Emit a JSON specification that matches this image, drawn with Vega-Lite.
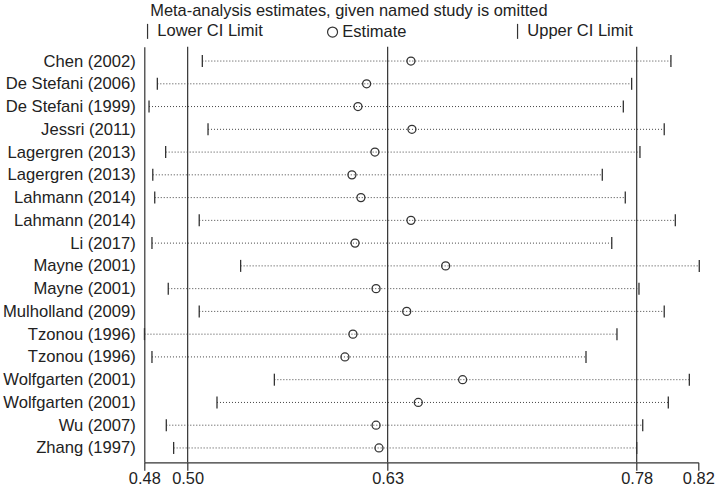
{
  "$schema": "https://vega.github.io/schema/vega-lite/v6.json",
  "width": 554,
  "height": 415.6,
  "autosize": {"type": "none"},
  "padding": {"left": 144.3, "top": 46.7, "right": 21.7, "bottom": 23.7},
  "background": "white",
  "config": {"view": {"stroke": null}},
  "title": {
    "text": "Meta-analysis estimates, given named study is omitted",
    "anchor": "start",
    "frame": "group",
    "font": "Liberation Sans",
    "fontSize": 16.4,
    "fontWeight": "normal",
    "color": "#222",
    "dx": 6,
    "offset": 3
  },
  "datasets": {
    "studies": [
      {"study": "Chen (2002)", "lower": 0.5128, "estimate": 0.6408, "upper": 0.8003},
      {"study": "De Stefani (2006)", "lower": 0.4852, "estimate": 0.6136, "upper": 0.7762},
      {"study": "De Stefani (1999)", "lower": 0.4801, "estimate": 0.6083, "upper": 0.7711},
      {"study": "Jessri (2011)", "lower": 0.5163, "estimate": 0.6414, "upper": 0.7962},
      {"study": "Lagergren (2013)", "lower": 0.4903, "estimate": 0.6187, "upper": 0.7813},
      {"study": "Lagergren (2013)#2", "lower": 0.4824, "estimate": 0.6046, "upper": 0.7582},
      {"study": "Lahmann (2014)", "lower": 0.4836, "estimate": 0.6101, "upper": 0.7723},
      {"study": "Lahmann (2014)#2", "lower": 0.5109, "estimate": 0.6408, "upper": 0.803},
      {"study": "Li (2017)", "lower": 0.4819, "estimate": 0.6065, "upper": 0.764},
      {"study": "Mayne (2001)", "lower": 0.5363, "estimate": 0.6621, "upper": 0.8177},
      {"study": "Mayne (2001)#2", "lower": 0.4919, "estimate": 0.6194, "upper": 0.7807},
      {"study": "Mulholland (2009)", "lower": 0.5109, "estimate": 0.6382, "upper": 0.7962},
      {"study": "Tzonou (1996)", "lower": 0.4773, "estimate": 0.6052, "upper": 0.7672},
      {"study": "Tzonou (1996)#2", "lower": 0.4819, "estimate": 0.6003, "upper": 0.7482},
      {"study": "Wolfgarten (2001)", "lower": 0.557, "estimate": 0.6725, "upper": 0.8116},
      {"study": "Wolfgarten (2001)#2", "lower": 0.5218, "estimate": 0.6453, "upper": 0.7987},
      {"study": "Wu (2007)", "lower": 0.4907, "estimate": 0.6194, "upper": 0.783},
      {"study": "Zhang (1997)", "lower": 0.4952, "estimate": 0.6212, "upper": 0.7793}
    ],
    "refs": [
      {"ref": 0.5038},
      {"ref": 0.6265},
      {"ref": 0.7793}
    ]
  },
  "layer": [
    {
      "data": {"name": "refs"},
      "mark": {"type": "rule", "color": "#333", "strokeWidth": 1.2},
      "encoding": {
        "x": {"field": "ref", "type": "quantitative", "scale": {"domain": [0.4772, 0.8171], "nice": false, "zero": false}}
      }
    },
    {
      "data": {"name": "studies"},
      "mark": {"type": "rule", "strokeDash": [1, 2], "color": "#444", "strokeWidth": 1},
      "encoding": {
        "y": {
          "field": "study", "type": "nominal", "sort": null,
          "scale": {"type": "point", "padding": 0.63},
          "axis": {
            "title": null, "ticks": false, "grid": false,
            "domainColor": "#333", "domainWidth": 1.2,
            "labelFont": "Liberation Sans", "labelFontSize": 16.6, "labelColor": "#222",
            "labelPadding": 9,
            "labelExpr": "split(datum.label, '#')[0]"
          }
        },
        "x": {
          "field": "lower", "type": "quantitative",
          "scale": {"domain": [0.4772, 0.8171], "nice": false, "zero": false},
          "axis": {
            "title": null, "grid": false,
            "values": [0.4772, 0.5038, 0.6265, 0.7793, 0.8171],
            "format": ".2f",
            "tickSize": 8, "tickColor": "#333", "tickWidth": 1.2,
            "domainColor": "#333", "domainWidth": 1.2,
            "labelFont": "Liberation Sans", "labelFontSize": 16.4, "labelColor": "#222",
            "labelPadding": 0, "labelFlush": false, "labelOverlap": false
          }
        },
        "x2": {"field": "upper"}
      }
    },
    {
      "data": {"name": "studies"},
      "transform": [{"fold": ["lower", "estimate", "upper"], "as": ["key", "value"]}],
      "mark": {"type": "point", "filled": false, "size": 64, "strokeWidth": 1.3, "color": "#333", "opacity": 1},
      "encoding": {
        "y": {"field": "study", "type": "nominal", "sort": null},
        "x": {"field": "value", "type": "quantitative"},
        "shape": {
          "field": "key", "type": "nominal",
          "scale": {"domain": ["lower", "estimate", "upper"], "range": ["M0,-1.5L0,1.5", "circle", "M0,-1.5L0,1.5"]},
          "legend": {
            "title": null,
            "orient": "none",
            "legendX": -5,
            "legendY": -24,
            "direction": "horizontal",
            "columns": 3,
            "gridAlign": "all",
            "columnPadding": 61,
            "padding": 0,
            "labelFont": "Liberation Sans", "labelFontSize": 16.5, "labelColor": "#222",
            "labelOffset": 1.5,
            "symbolStrokeWidth": 1.2,
            "symbolStrokeColor": "#333",
            "labelExpr": "datum.label == 'lower' ? 'Lower CI Limit' : datum.label == 'estimate' ? 'Estimate' : 'Upper CI Limit'"
          }
        }
      }
    }
  ]
}
